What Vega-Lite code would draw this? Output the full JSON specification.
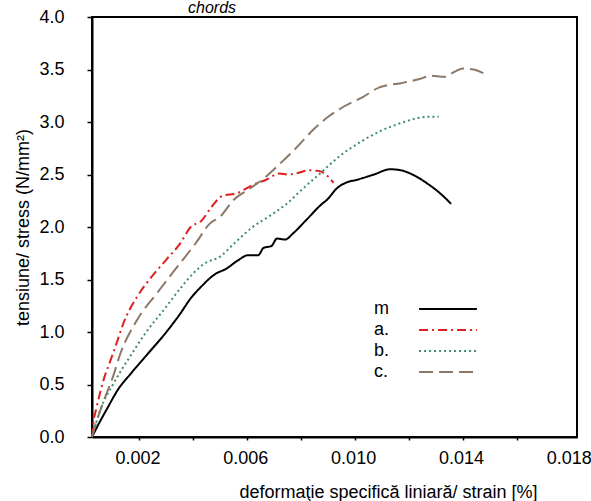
{
  "$schema": "https://vega.github.io/schema/vega-lite/v6.json",
  "width": 485,
  "height": 420,
  "autosize": {"type": "none"},
  "padding": {"left": 92, "top": 17, "right": 14, "bottom": 64},
  "background": "white",
  "title": {"text": "chords", "fontStyle": "italic", "font": "Liberation Sans", "fontSize": 16, "fontWeight": "normal", "anchor": "start", "frame": "group", "dx": 96, "offset": -21, "baseline": "alphabetic", "color": "black"},
  "data": {"values": [
    {"s": "m", "x": 0.00024, "y": 0},
    {"s": "m", "x": 0.0005, "y": 0.13},
    {"s": "m", "x": 0.0008, "y": 0.27},
    {"s": "m", "x": 0.0012, "y": 0.45},
    {"s": "m", "x": 0.0017, "y": 0.61},
    {"s": "m", "x": 0.0023, "y": 0.79},
    {"s": "m", "x": 0.003, "y": 1.0},
    {"s": "m", "x": 0.0035, "y": 1.17},
    {"s": "m", "x": 0.0039, "y": 1.32},
    {"s": "m", "x": 0.0044, "y": 1.46},
    {"s": "m", "x": 0.0046, "y": 1.51},
    {"s": "m", "x": 0.0048, "y": 1.55},
    {"s": "m", "x": 0.0052, "y": 1.6},
    {"s": "m", "x": 0.0057, "y": 1.69},
    {"s": "m", "x": 0.006, "y": 1.73},
    {"s": "m", "x": 0.0064, "y": 1.73},
    {"s": "m", "x": 0.0066, "y": 1.8},
    {"s": "m", "x": 0.0069, "y": 1.82},
    {"s": "m", "x": 0.0071, "y": 1.89},
    {"s": "m", "x": 0.0074, "y": 1.88},
    {"s": "m", "x": 0.0077, "y": 1.94},
    {"s": "m", "x": 0.0082, "y": 2.07},
    {"s": "m", "x": 0.00877, "y": 2.22},
    {"s": "m", "x": 0.00896, "y": 2.26},
    {"s": "m", "x": 0.00933, "y": 2.37},
    {"s": "m", "x": 0.00964, "y": 2.42},
    {"s": "m", "x": 0.01007, "y": 2.45},
    {"s": "m", "x": 0.0107, "y": 2.5},
    {"s": "m", "x": 0.0113, "y": 2.55},
    {"s": "m", "x": 0.0117, "y": 2.54},
    {"s": "m", "x": 0.0122, "y": 2.49},
    {"s": "m", "x": 0.0127, "y": 2.41},
    {"s": "m", "x": 0.0132, "y": 2.31},
    {"s": "m", "x": 0.01356, "y": 2.22},
    {"s": "a.", "x": 0.00024, "y": 0},
    {"s": "a.", "x": 0.0003, "y": 0.15},
    {"s": "a.", "x": 0.0004, "y": 0.27},
    {"s": "a.", "x": 0.00055, "y": 0.43},
    {"s": "a.", "x": 0.0007, "y": 0.57},
    {"s": "a.", "x": 0.0009, "y": 0.71},
    {"s": "a.", "x": 0.0012, "y": 0.93},
    {"s": "a.", "x": 0.0014, "y": 1.08},
    {"s": "a.", "x": 0.0019, "y": 1.33},
    {"s": "a.", "x": 0.0024, "y": 1.51},
    {"s": "a.", "x": 0.003, "y": 1.69},
    {"s": "a.", "x": 0.0035, "y": 1.84},
    {"s": "a.", "x": 0.0039, "y": 2.0},
    {"s": "a.", "x": 0.0043, "y": 2.06},
    {"s": "a.", "x": 0.0047, "y": 2.2},
    {"s": "a.", "x": 0.0051, "y": 2.3},
    {"s": "a.", "x": 0.0056, "y": 2.32},
    {"s": "a.", "x": 0.0062, "y": 2.4},
    {"s": "a.", "x": 0.0067, "y": 2.45},
    {"s": "a.", "x": 0.0072, "y": 2.51},
    {"s": "a.", "x": 0.0075, "y": 2.5},
    {"s": "a.", "x": 0.0078, "y": 2.51},
    {"s": "a.", "x": 0.0083, "y": 2.54},
    {"s": "a.", "x": 0.0087, "y": 2.53},
    {"s": "a.", "x": 0.009, "y": 2.48},
    {"s": "a.", "x": 0.0092, "y": 2.42},
    {"s": "b.", "x": 0.00024, "y": 0},
    {"s": "b.", "x": 0.00055, "y": 0.26},
    {"s": "b.", "x": 0.00104, "y": 0.51},
    {"s": "b.", "x": 0.00166, "y": 0.77},
    {"s": "b.", "x": 0.00228, "y": 1.01},
    {"s": "b.", "x": 0.0029, "y": 1.21},
    {"s": "b.", "x": 0.0035, "y": 1.41},
    {"s": "b.", "x": 0.004, "y": 1.56},
    {"s": "b.", "x": 0.0044, "y": 1.65},
    {"s": "b.", "x": 0.005, "y": 1.72},
    {"s": "b.", "x": 0.0055, "y": 1.84},
    {"s": "b.", "x": 0.0062, "y": 2.0},
    {"s": "b.", "x": 0.0068, "y": 2.1},
    {"s": "b.", "x": 0.0075, "y": 2.23},
    {"s": "b.", "x": 0.008, "y": 2.35},
    {"s": "b.", "x": 0.0087, "y": 2.51},
    {"s": "b.", "x": 0.00945, "y": 2.68},
    {"s": "b.", "x": 0.0102, "y": 2.81},
    {"s": "b.", "x": 0.0109, "y": 2.91},
    {"s": "b.", "x": 0.0117, "y": 2.99},
    {"s": "b.", "x": 0.0122, "y": 3.03},
    {"s": "b.", "x": 0.0127, "y": 3.05},
    {"s": "b.", "x": 0.0131, "y": 3.05},
    {"s": "c.", "x": 0.00024, "y": 0},
    {"s": "c.", "x": 0.0004, "y": 0.14},
    {"s": "c.", "x": 0.0007, "y": 0.36},
    {"s": "c.", "x": 0.001, "y": 0.56},
    {"s": "c.", "x": 0.0013, "y": 0.8},
    {"s": "c.", "x": 0.0019, "y": 1.11},
    {"s": "c.", "x": 0.00265, "y": 1.37},
    {"s": "c.", "x": 0.0034, "y": 1.62},
    {"s": "c.", "x": 0.0041, "y": 1.85},
    {"s": "c.", "x": 0.0046, "y": 2.03},
    {"s": "c.", "x": 0.005, "y": 2.1},
    {"s": "c.", "x": 0.0055, "y": 2.26},
    {"s": "c.", "x": 0.006, "y": 2.35},
    {"s": "c.", "x": 0.0066, "y": 2.46},
    {"s": "c.", "x": 0.0072, "y": 2.6},
    {"s": "c.", "x": 0.0078, "y": 2.75},
    {"s": "c.", "x": 0.0085, "y": 2.94},
    {"s": "c.", "x": 0.009, "y": 3.05},
    {"s": "c.", "x": 0.0096, "y": 3.15},
    {"s": "c.", "x": 0.0103, "y": 3.24},
    {"s": "c.", "x": 0.0109, "y": 3.33},
    {"s": "c.", "x": 0.0117, "y": 3.37},
    {"s": "c.", "x": 0.0124, "y": 3.41},
    {"s": "c.", "x": 0.0128, "y": 3.44},
    {"s": "c.", "x": 0.0133, "y": 3.43},
    {"s": "c.", "x": 0.0137, "y": 3.48},
    {"s": "c.", "x": 0.014, "y": 3.51},
    {"s": "c.", "x": 0.0144, "y": 3.5},
    {"s": "c.", "x": 0.0148, "y": 3.46}
  ]},
  "mark": {"type": "line", "strokeWidth": 2, "interpolate": "monotone"},
  "encoding": {
    "x": {
      "field": "x", "type": "quantitative",
      "scale": {"domain": [0.00024, 0.01823], "nice": false, "zero": false},
      "axis": {
        "title": "deformaţie specifică liniară/ strain [%]",
        "values": [0.002, 0.004, 0.006, 0.008, 0.010, 0.012, 0.014, 0.016, 0.018],
        "format": ".3f",
        "labelExpr": "(round(datum.value*1000) % 4 == 2) ? datum.label : ''",
        "tickOpacity": {"condition": {"test": "datum.value > 0.017", "value": 0}, "value": 1},
        "labelFlush": false,
        "labelOverlap": false,
        "labelOffset": -2,
        "tickSize": 3,
        "labelPadding": 9,
        "titleX": 296,
        "titleY": 60,
        "titleBaseline": "alphabetic",
        "titleAlign": "center"
      }
    },
    "y": {
      "field": "y", "type": "quantitative",
      "scale": {"domain": [0, 4], "nice": false},
      "axis": {
        "title": "tensiune/ stress (N/mm²)",
        "values": [0, 0.5, 1, 1.5, 2, 2.5, 3, 3.5, 4],
        "format": ".1f",
        "tickSize": 5,
        "labelPadding": 23,
        "titleX": -64,
        "titleY": 210,
        "titleBaseline": "alphabetic",
        "titleAlign": "center",
        "titleAngle": -90
      }
    },
    "color": {
      "field": "s", "type": "nominal",
      "scale": {"domain": ["m", "a.", "b.", "c."], "range": ["#000000", "#e01e1e", "#3d8c6e", "#8b7867"]},
      "legend": {
        "title": null,
        "orient": "none",
        "legendX": 345,
        "legendY": 281,
        "symbolType": "M-3,0H3",
        "symbolSize": 372,
        "symbolStrokeWidth": 2,
        "symbolFillColor": "transparent",
        "labelOffset": -85,
        "labelFontSize": 18,
        "labelFont": "Liberation Sans",
        "labelColor": "black",
        "rowPadding": 1,
        "padding": 0
      }
    },
    "strokeDash": {
      "field": "s", "type": "nominal",
      "scale": {"domain": ["m", "a.", "b.", "c."], "range": [[1, 0], [9, 4, 2, 4], [2, 3], [14, 6]]}
    }
  },
  "config": {
    "view": {"stroke": "black", "strokeWidth": 2},
    "axis": {
      "labelFont": "Liberation Sans", "titleFont": "Liberation Sans",
      "labelColor": "black", "titleColor": "black",
      "domainColor": "black", "tickColor": "black",
      "domainWidth": 2, "tickWidth": 1.5, "grid": false,
      "labelFontSize": 18, "titleFontSize": 18, "titleFontWeight": "normal"
    }
  }
}
